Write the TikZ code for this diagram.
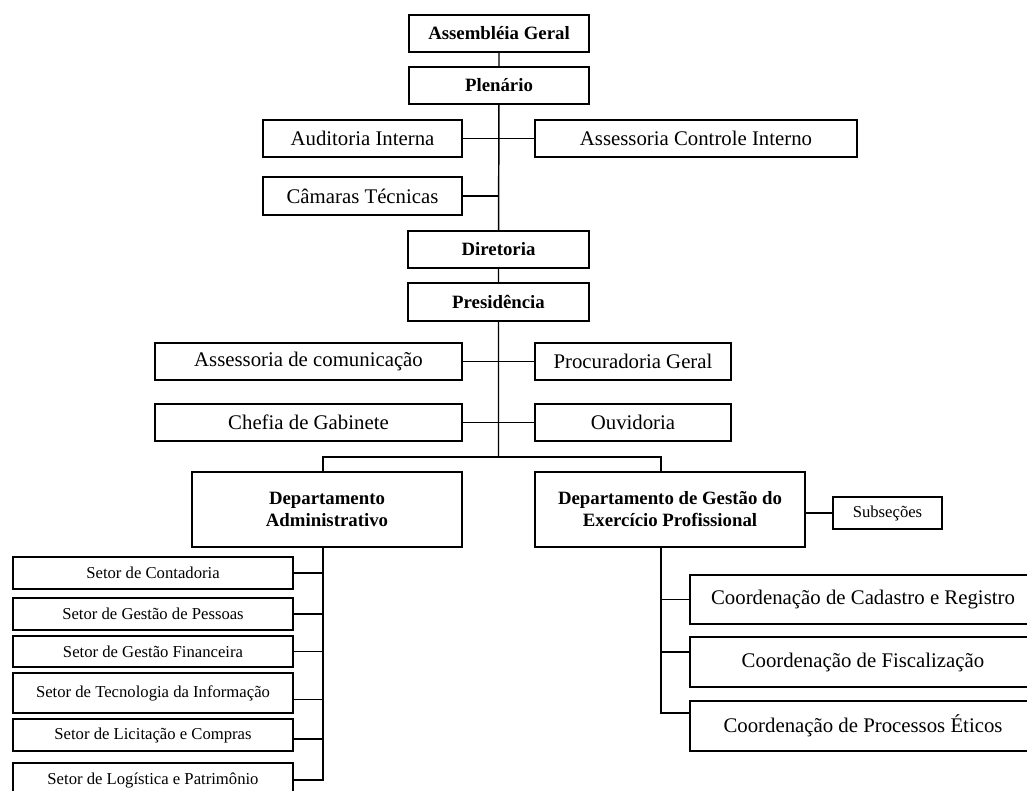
\documentclass[tikz,border=0pt]{standalone}
\usepackage{fontspec}
\setmainfont{Liberation Serif}
\usepackage{tikz}
\tikzstyle{headbox}=[rectangle,draw=black,fill=white,line width=1.1pt,
                     inner sep=0pt,align=center,
                     font=\bfseries\fontsize{14.1}{16.5}\selectfont]
\tikzstyle{unitbox}=[rectangle,draw=black,fill=white,line width=1.1pt,
                     inner sep=0pt,align=center,
                     font=\fontsize{15.6}{18}\selectfont]
\tikzstyle{setorbox}=[rectangle,draw=black,fill=white,line width=1.1pt,
                      inner sep=0pt,align=center,
                      font=\fontsize{12.5}{15}\selectfont]
\tikzstyle{link}=[draw=black,line width=1.1pt]

\begin{document}
\begin{tikzpicture}[x=0.75pt,y=-0.75pt]
    \newcommand{\pxu}{0.75pt}
    \useasboundingbox (0,0) rectangle (1027,791);
    % top of the chart
    \node (ag) at (499,33.5) [headbox,minimum width=180*\pxu,minimum height=37*\pxu]{Assembléia Geral};
    \node (pl) at (499,85.5) [headbox,minimum width=180*\pxu,minimum height=37*\pxu]{Plenário};
    \node (ai) at (362.5,138.5) [unitbox,minimum width=199*\pxu,minimum height=37*\pxu]{Auditoria Interna};
    \node (aci) at (696,138.5) [unitbox,minimum width=322*\pxu,minimum height=37*\pxu]{Assessoria Controle Interno};
    \node (ct) at (362.5,196) [unitbox,minimum width=199*\pxu,minimum height=38*\pxu]{Câmaras Técnicas};
    \node (di) at (498.5,249.5) [headbox,minimum width=181*\pxu,minimum height=37*\pxu]{Diretoria};
    \node (pr) at (498.5,302) [headbox,minimum width=181*\pxu,minimum height=38*\pxu]{Presidência};
    \node (ac) at (308.5,361.5) [unitbox,minimum width=307*\pxu,minimum height=37*\pxu]{Assessoria de comunicação};
    \node (pg) at (633,361.5) [unitbox,minimum width=196*\pxu,minimum height=37*\pxu]{Procuradoria Geral};
    \node (cg) at (308.5,422.5) [unitbox,minimum width=307*\pxu,minimum height=37*\pxu]{Chefia de Gabinete};
    \node (ou) at (633,422.5) [unitbox,minimum width=196*\pxu,minimum height=37*\pxu]{Ouvidoria};
    % departments
    \node (da) at (327,509.5) [headbox,minimum width=270*\pxu,minimum height=75*\pxu]{Departamento\\Administrativo};
    \node (dg) at (670,509.5) [headbox,minimum width=270*\pxu,minimum height=75*\pxu]{Departamento de Gestão do\\Exercício Profissional};
    \node (sub) at (887.5,513) [setorbox,minimum width=109*\pxu,minimum height=32*\pxu]{Subseções};
    % setores
    \node (sc) at (153,573) [setorbox,minimum width=280*\pxu,minimum height=32*\pxu]{Setor de Contadoria};
    \node (sgp) at (153,614) [setorbox,minimum width=280*\pxu,minimum height=32*\pxu]{Setor de Gestão de Pessoas};
    \node (sgf) at (153,651.5) [setorbox,minimum width=280*\pxu,minimum height=31*\pxu]{Setor de Gestão Financeira};
    \node (sti) at (153,693) [setorbox,minimum width=280*\pxu,minimum height=40*\pxu]{Setor de Tecnologia da Informação};
    \node (slc) at (153,735) [setorbox,minimum width=280*\pxu,minimum height=32*\pxu]{Setor de Licitação e Compras};
    \node (slp) at (153,780) [setorbox,minimum width=280*\pxu,minimum height=34*\pxu]{Setor de Logística e Patrimônio};
    % coordenacoes
    \node (ccr) at (863,599.5) [unitbox,minimum width=346*\pxu,minimum height=49*\pxu]{Coordenação de Cadastro e Registro};
    \node (cf) at (863,662) [unitbox,minimum width=346*\pxu,minimum height=50*\pxu]{Coordenação de Fiscalização};
    \node (cpe) at (863,726) [unitbox,minimum width=346*\pxu,minimum height=50*\pxu]{Coordenação de Processos Éticos};
    % junctions
    \coordinate (jn) at (498.5,457);
    \coordinate (dax) at (323,547);
    \coordinate (dgx) at (661,547);
    % connectors
    \draw[link] (ag) -- (pl) (pl) -- (di) (di) -- (pr) (pr) -- (jn);
    \draw[link] (ai) -- (aci) (ct) -- (ct.east -| pl.south);
    \draw[link] (ac) -- (pg) (cg) -- (ou);
    \draw[link] (dax |- da.north) |- (jn) -| (dgx |- dg.north);
    \draw[link] (dax) |- (slp.east);
    \foreach \s/\d in {sc/0,sgp/0,sgf/0,sti/-5,slc/-3}
      \draw[link] ([yshift=\d pt]\s.east) -- ([yshift=\d pt]\s.east -| dax);
    \draw[link] (sub) -- (sub.west -| dg.east);
    \draw[link] (dgx) |- ([yshift=9.75pt]cpe.west);
    \draw[link] (ccr) -- (ccr.west -| dgx);
    \draw[link] ([yshift=7.5pt]cf.west) -- ([yshift=7.5pt]cf.west -| dgx);
\end{tikzpicture}
\end{document}
